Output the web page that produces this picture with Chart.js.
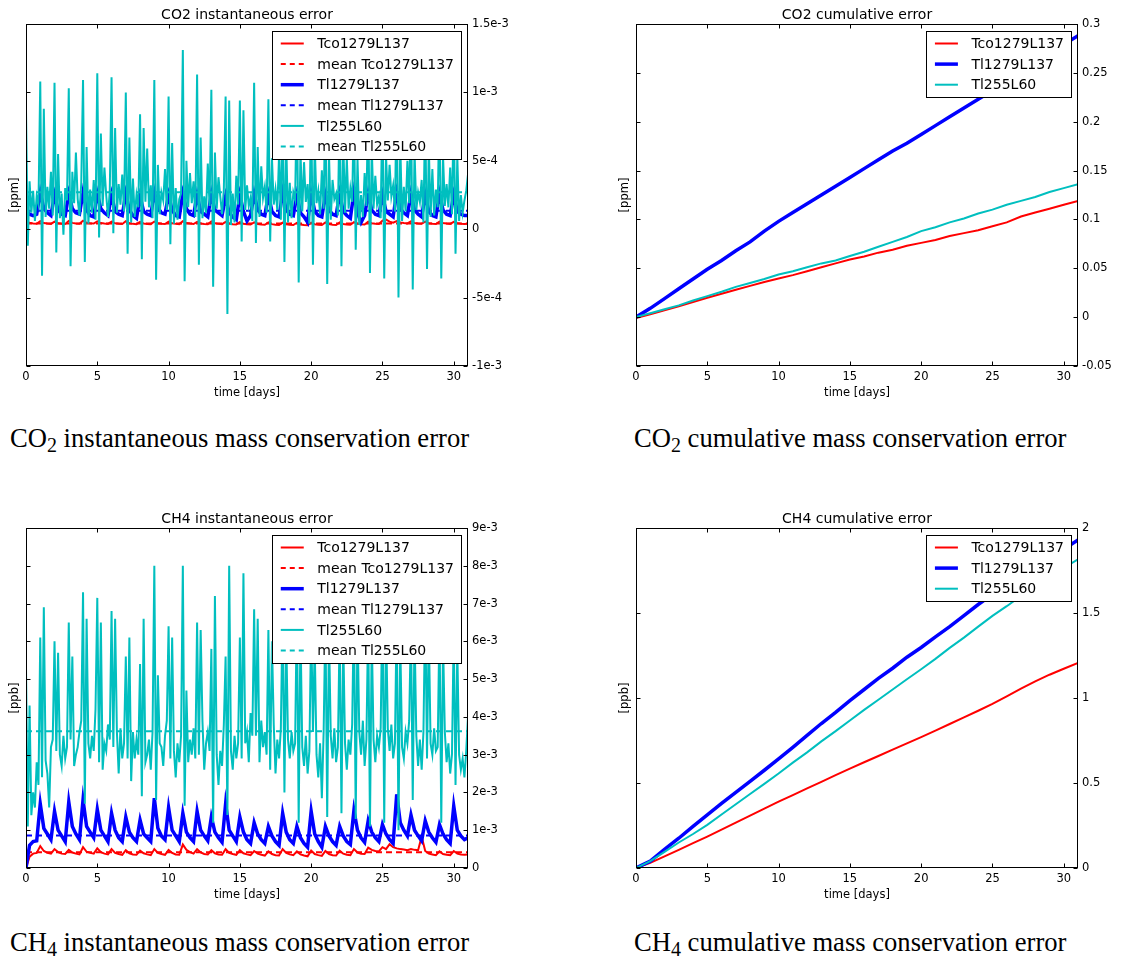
<!DOCTYPE html>
<html>
<head>
<meta charset="utf-8">
<script src="https://cdn.jsdelivr.net/npm/chart.js@4.4.1/dist/chart.umd.min.js"></script>
<style>
  html, body { margin: 0; padding: 0; background: #fff; overflow: hidden; }
  #page { position: relative; width: 1121px; height: 959px; }
  canvas { position: absolute; }
  .caption { position: absolute; font-family: "Liberation Serif", "Times New Roman", serif; font-size: 26.6px; line-height: 30px; color: #000; white-space: nowrap; }
  .caption sub { font-size: 20px; vertical-align: -5px; line-height: 0; }
</style>
</head>
<body>
<div id="page">
  <canvas id="co2Inst" width="516" height="405" style="left:0px;top:0px"></canvas>
  <canvas id="co2Cum" width="511" height="405" style="left:610px;top:0px"></canvas>
  <canvas id="ch4Inst" width="516" height="403" style="left:0px;top:504px"></canvas>
  <canvas id="ch4Cum" width="511" height="403" style="left:610px;top:504px"></canvas>
  <div class="caption" style="left:10px;top:423px">CO<sub>2</sub> instantaneous mass conservation error</div>
  <div class="caption" style="left:634px;top:423px">CO<sub>2</sub> cumulative mass conservation error</div>
  <div class="caption" style="left:10px;top:927px">CH<sub>4</sub> instantaneous mass conservation error</div>
  <div class="caption" style="left:634px;top:927px">CH<sub>4</sub> cumulative mass conservation error</div>
</div>
<script>
"use strict";

const RED = '#ff0000';
const BLUE = '#0000ff';
const CYAN = '#00bfbf';

const modelNames = ['Tco1279L137', 'Tl1279L137', 'Tl255L60'];

// time axis (days)
const STEP_6H = 0.25;  // Tco / Tl1279 instantaneous, 4 per day
const STEP_3H = 0.125; // Tl255 instantaneous, 8 per day
const STEP_DAY = 1;    // cumulative, read once a day
const xTicks = [0, 5, 10, 15, 20, 25, 30];
const xTickLabels = ['0', '5', '10', '15', '20', '25', '30'];

// CO2 instantaneous error, values in 1e-4 ppm
const co2InstTco = [
  0.55,0.48,0.42,0.40, 0.58,0.45,0.41,0.39, 0.56,0.44,0.40,0.38, 0.60,0.46,0.42,0.40,
  0.62,0.47,0.43,0.41, 0.57,0.45,0.41,0.39, 0.55,0.44,0.40,0.38, 0.58,0.43,0.39,0.37,
  0.54,0.42,0.38,0.37, 0.56,0.44,0.40,0.38, 0.55,0.43,0.39,0.37, 0.59,0.45,0.41,0.38,
  0.54,0.42,0.38,0.36, 0.56,0.43,0.39,0.37, 0.53,0.41,0.37,0.35, 0.52,0.40,0.36,0.34,
  0.50,0.38,0.34,0.32, 0.49,0.37,0.33,0.31, 0.48,0.36,0.32,0.30, 0.47,0.35,0.31,0.29,
  0.48,0.36,0.32,0.30, 0.49,0.37,0.33,0.31, 0.50,0.38,0.34,0.32, 0.52,0.40,0.36,0.34,
  0.55,0.44,0.40,0.38, 0.62,0.70,0.55,0.48, 0.60,0.50,0.45,0.42, 0.57,0.46,0.42,0.40,
  0.55,0.44,0.40,0.38, 0.56,0.45,0.41,0.39, 0.54,0.43,0.40,0.38, 0.40
];
const co2InstTl1279 = [
  1.4,1.1,1.0,1.1, 2.7,1.5,1.2,1.0, 2.5,1.4,1.1,1.0, 2.6,1.5,1.2,1.1,
  2.7,1.4,1.0,0.9, 2.6,1.5,1.2,1.0, 2.5,1.3,1.1,1.0, 2.6,1.4,1.0,0.8,
  2.4,1.3,1.1,1.0, 2.7,1.5,1.2,1.1, 2.5,1.4,1.0,0.9, 2.6,1.5,1.1,1.0,
  2.5,1.3,1.1,0.9, 2.6,1.4,1.2,1.0, 2.4,1.2,0.9,0.7, 2.5,1.3,0.6,1.0,
  2.6,1.4,1.1,1.0, 2.5,1.3,1.0,0.9, 2.7,1.4,1.1,1.0, 2.5,1.2,0.9,0.5,
  2.6,1.3,1.0,0.9, 2.5,1.4,1.1,1.0, 2.6,1.3,1.0,0.8, 2.7,1.2,0.5,1.0,
  2.6,1.4,1.1,1.0, 2.5,1.3,1.1,0.9, 2.7,1.5,1.2,1.0, 2.6,1.4,1.1,0.9,
  2.5,1.3,1.0,0.9, 2.6,1.4,1.1,1.0, 2.5,1.3,1.1,1.0, 1.0
];
const co2InstTl255 = [
  8.7,-1.2,3.5,1.2,2.8,0.6,2.4,1.8,   10.8,-3.4,8.8,0.9,3.1,1.5,4.2,1.0,
  10.7,-1.7,5.5,0.8,2.6,-0.4,3.0,2.1, 10.3,-2.7,4.2,1.9,5.6,2.2,1.0,3.4,
  10.9,-2.4,6.0,0.4,2.9,1.2,3.6,0.7,  11.4,-0.6,7.0,1.7,4.5,2.5,0.9,2.8,
  11.1,-0.3,7.4,1.2,3.3,1.8,4.0,1.3,  10.0,-1.8,6.7,0.5,3.7,0.9,2.5,1.6,
  8.4,-2.2,7.4,2.0,5.9,1.6,3.2,0.8,   10.9,-3.7,4.7,1.1,2.7,2.1,4.4,1.4,
  9.7,-1.1,6.3,0.4,3.0,0.7,2.2,2.6,   13.1,-3.8,5.0,1.6,4.1,1.9,3.5,0.9,
  11.3,-2.6,6.7,0.8,2.4,1.2,4.8,1.7,  10.2,-4.2,5.6,1.5,3.8,2.4,1.1,2.9,
  9.7,-6.2,9.4,0.3,2.6,0.5,3.9,1.8,   9.4,-0.9,8.7,1.4,3.2,1.7,2.3,0.6,
  10.7,-1.0,6.0,0.9,4.6,2.3,3.1,1.2,  9.5,-0.9,5.2,1.8,2.9,1.4,5.5,0.7,
  9.0,-2.4,6.5,0.5,3.4,0.8,2.7,2.2,   10.0,-3.9,5.8,1.3,4.9,2.0,3.3,0.4,
  9.3,-2.6,6.2,1.9,2.8,1.1,4.3,1.5,   9.8,-4.0,5.5,0.7,3.6,2.2,2.6,1.0,
  9.1,-2.7,6.6,1.2,5.2,1.5,3.0,2.0,   8.8,-1.5,5.1,0.3,2.5,0.9,4.1,1.7,
  9.6,-3.2,6.0,1.5,3.9,1.8,2.4,0.8,   9.4,-3.6,5.4,2.1,4.7,2.4,3.2,1.3,
  10.2,-5.0,6.3,0.6,3.1,1.3,5.0,1.9,  9.7,-4.4,5.7,1.4,2.7,2.0,3.6,0.5,
  9.0,-2.9,6.1,0.9,4.4,1.0,2.9,1.6,   9.5,-3.6,5.3,1.7,3.3,1.6,4.5,1.1,
  8.9,-1.8,5.3,0.6,2.5,1.2,2.1,2.8,   4.0
];
const co2InstMeans = [0.42, 1.35, 2.7];
const co2InstTicks = [-1e-3, -5e-4, 0, 5e-4, 1e-3, 1.5e-3];
const co2InstTickLabels = ['-1e-3', '-5e-4', '0', '5e-4', '1e-3', '1.5e-3'];

// CO2 cumulative error, ppm
const co2CumTco = [
  -0.001, 0.003, 0.007, 0.011, 0.0155, 0.0198, 0.024, 0.028, 0.032, 0.036, 0.0396,
  0.043, 0.047, 0.051, 0.055, 0.059, 0.062, 0.066, 0.069, 0.073, 0.076,
  0.079, 0.083, 0.086, 0.089, 0.093, 0.097, 0.103, 0.107, 0.111, 0.115, 0.119
];
const co2CumTl1279 = [
  0, 0.009, 0.019, 0.029, 0.039, 0.049, 0.058, 0.068, 0.077, 0.088, 0.098,
  0.107, 0.116, 0.125, 0.134, 0.143, 0.152, 0.161, 0.170, 0.178, 0.187,
  0.196, 0.205, 0.214, 0.223, 0.232, 0.243, 0.252, 0.261, 0.270, 0.279, 0.288
];
const co2CumTl255 = [
  0, 0.004, 0.008, 0.012, 0.017, 0.0215, 0.026, 0.031, 0.035, 0.039, 0.0437,
  0.047, 0.051, 0.055, 0.058, 0.0625, 0.067, 0.072, 0.077, 0.082, 0.088,
  0.092, 0.097, 0.101, 0.106, 0.110, 0.115, 0.119, 0.123, 0.128, 0.132, 0.136
];
const co2CumTicks = [-0.05, 0, 0.05, 0.1, 0.15, 0.2, 0.25, 0.3];
const co2CumTickLabels = ['-0.05', '0', '0.05', '0.1', '0.15', '0.2', '0.25', '0.3'];

// CH4 instantaneous error, values in 1e-3 ppb
const ch4InstTco = [
  0.00,0.30,0.38,0.40, 0.58,0.45,0.40,0.38, 0.50,0.42,0.38,0.37, 0.48,0.41,0.38,0.36,
  0.55,0.43,0.40,0.38, 0.52,0.42,0.38,0.36, 0.50,0.40,0.37,0.35, 0.47,0.39,0.36,0.35,
  0.46,0.39,0.36,0.34, 0.50,0.40,0.37,0.35, 0.48,0.40,0.36,0.35, 0.62,0.48,0.42,0.38,
  0.50,0.41,0.37,0.36, 0.47,0.39,0.36,0.35, 0.50,0.40,0.37,0.35, 0.47,0.39,0.36,0.34,
  0.45,0.38,0.35,0.33, 0.44,0.37,0.34,0.33, 0.50,0.40,0.36,0.34, 0.44,0.36,0.33,0.31,
  0.46,0.37,0.34,0.32, 0.45,0.37,0.34,0.33, 0.46,0.38,0.35,0.34, 0.50,0.41,0.38,0.37,
  0.54,0.48,0.45,0.44, 0.55,0.50,0.63,0.55, 0.52,0.50,0.49,0.47, 0.50,0.48,0.47,0.83,
  0.45,0.38,0.36,0.34, 0.44,0.37,0.35,0.34, 0.45,0.38,0.36,0.35, 0.36
];
const ch4InstTl1279 = [
  0.00,0.60,0.70,0.72, 1.70,1.05,0.90,0.75, 1.50,1.00,0.85,0.70, 1.75,1.10,0.90,0.75,
  1.80,1.10,0.95,0.80, 1.55,1.00,0.85,0.70, 1.45,1.00,0.80,0.70, 1.35,0.95,0.80,0.70,
  1.27,0.90,0.80,0.70, 1.85,1.05,0.85,0.75, 1.60,1.00,0.85,0.70, 1.45,0.95,0.80,0.70,
  1.50,1.00,0.85,0.72, 1.35,0.95,0.80,0.68, 1.70,1.00,0.85,0.70, 1.35,0.95,0.75,0.65,
  1.20,0.90,0.75,0.65, 1.10,0.85,0.70,0.60, 1.45,0.95,0.75,0.65, 1.10,0.80,0.65,0.55,
  1.50,0.90,0.70,0.55, 1.10,0.85,0.70,0.60, 1.10,0.85,0.70,0.62, 1.53,1.00,0.80,0.68,
  1.25,0.95,0.80,0.70, 1.15,0.90,0.75,0.65, 1.95,1.20,1.00,0.85, 1.40,1.00,0.85,0.72,
  1.25,0.95,0.80,0.68, 1.15,0.90,0.75,0.65, 1.64,1.00,0.85,0.75, 0.80
];
const ch4InstTl255 = [
  5.3,1.1,4.3,1.4,2.0,1.6,2.8,2.2,    6.1,2.4,6.9,2.85,2.5,1.6,3.2,3.4,
  6.0,3.1,5.7,3.0,2.7,3.5,2.9,3.2,    6.5,3.4,5.6,2.7,3.0,3.2,3.6,3.9,
  7.3,1.7,6.6,3.3,2.9,3.5,3.1,4.2,    7.15,2.8,6.5,2.6,3.3,3.1,3.8,3.4,
  6.8,3.2,6.6,3.6,2.5,3.7,2.9,3.3,    5.6,2.9,6.1,2.3,3.6,2.9,3.4,3.0,
  5.4,1.9,6.6,2.8,3.0,3.4,2.6,3.6,    8.0,1.8,5.1,3.3,3.2,2.7,3.5,3.9,
  6.4,2.9,6.1,3.1,2.4,3.3,2.8,3.5,    8.0,1.65,4.7,2.8,3.4,3.0,3.7,2.9,
  6.5,3.0,6.3,3.9,2.6,3.3,3.6,3.1,    5.8,1.2,7.2,3.0,2.2,3.1,2.7,3.8,
  5.6,1.4,8.0,3.1,2.6,3.5,2.9,3.3,    6.1,2.9,7.8,3.3,3.6,2.8,4.1,3.5,
  6.85,3.5,6.6,2.8,3.9,3.2,3.6,3.0,   6.3,2.6,6.0,3.8,2.5,3.4,2.9,3.7,
  6.9,2.0,6.2,3.4,2.9,3.6,3.1,3.3,    7.0,1.2,6.4,3.2,2.7,3.5,2.5,3.1,
  6.5,3.6,5.9,3.0,2.4,3.3,1.85,3.6,   6.7,1.35,6.3,3.5,2.9,3.7,2.8,3.2,
  6.4,1.45,6.1,3.3,2.6,3.4,3.0,3.8,   6.9,1.3,6.5,3.6,3.0,3.9,2.7,3.4,
  6.6,1.1,6.2,3.4,2.8,3.5,3.2,3.7,    7.2,1.2,6.6,3.7,3.1,3.8,2.9,3.3,
  6.8,1.0,6.0,3.2,2.9,3.6,3.3,3.9,    6.5,1.8,6.3,3.5,2.7,3.4,2.6,3.6,
  7.0,2.9,6.4,3.3,3.0,3.7,3.1,3.2,    6.6,1.2,6.0,3.6,2.8,3.3,2.5,3.0,
  6.3,2.2,5.8,3.0,2.6,2.9,2.4,3.1,    4.0
];
const ch4InstMeans = [0.42, 0.86, 3.62];
const ch4InstTicks = [0, 1e-3, 2e-3, 3e-3, 4e-3, 5e-3, 6e-3, 7e-3, 8e-3, 9e-3];
const ch4InstTickLabels = ['0', '1e-3', '2e-3', '3e-3', '4e-3', '5e-3', '6e-3', '7e-3', '8e-3', '9e-3'];

// CH4 cumulative error, ppb
const ch4CumTco = [
  0, 0.03, 0.068, 0.107, 0.146, 0.185, 0.226, 0.267, 0.308, 0.349, 0.39,
  0.429, 0.468, 0.507, 0.546, 0.585, 0.622, 0.659, 0.696, 0.733, 0.77,
  0.808, 0.847, 0.886, 0.925, 0.966, 1.01, 1.055, 1.098, 1.137, 1.172, 1.206
];
const ch4CumTl1279 = [
  0, 0.04, 0.11, 0.175, 0.245, 0.312, 0.38, 0.445, 0.51, 0.575, 0.642,
  0.71, 0.78, 0.85, 0.915, 0.985, 1.05, 1.115, 1.175, 1.24, 1.297,
  1.36, 1.42, 1.485, 1.55, 1.61, 1.665, 1.72, 1.77, 1.825, 1.875, 1.93
];
const ch4CumTl255 = [
  0, 0.04, 0.095, 0.15, 0.2, 0.254, 0.315, 0.375, 0.435, 0.495, 0.556,
  0.62, 0.68, 0.745, 0.805, 0.868, 0.93, 0.99, 1.05, 1.11, 1.169,
  1.23, 1.295, 1.355, 1.42, 1.483, 1.54, 1.6, 1.655, 1.71, 1.765, 1.815
];
const ch4CumTicks = [0, 0.5, 1, 1.5, 2];
const ch4CumTickLabels = ['0', '0.5', '1', '1.5', '2'];

const FONT = '"DejaVu Sans", sans-serif';
Chart.defaults.font.family = FONT;
Chart.defaults.color = '#000';

const series = (label, color, width, values, step, unit) => ({
  label: label,
  data: values.map((v, i) => ({ x: i * step, y: v * unit })),
  borderColor: color,
  borderWidth: width,
  borderDash: [],
  pointRadius: 0,
  tension: 0,
  fill: false
});

const meanLine = (label, color, value, unit) => ({
  label: label,
  data: [{ x: 0, y: value * unit }, { x: 31, y: value * unit }],
  borderColor: color,
  borderWidth: 2,
  borderDash: [6, 4],
  pointRadius: 0,
  fill: false
});

// frame, inward ticks, title, axis labels and boxed legend, matplotlib look
const mplFrame = {
  id: 'mplFrame',
  afterDatasetsDraw(chart, args, opts) {
    const { ctx, chartArea: a, scales } = chart;
    const line = (x1, y1, x2, y2) => { ctx.beginPath(); ctx.moveTo(x1, y1); ctx.lineTo(x2, y2); ctx.stroke(); };
    ctx.save();
    ctx.strokeStyle = '#000';
    ctx.lineWidth = 1;
    ctx.setLineDash([]);
    const L = Math.round(a.left) + 0.5, R = Math.round(a.right) - 0.5;
    const T = Math.round(a.top) + 0.5, B = Math.round(a.bottom) - 0.5;
    ctx.strokeRect(L, T, R - L, B - T);
    scales.x.ticks.forEach(t => {
      const px = Math.round(scales.x.getPixelForValue(t.value)) + 0.5;
      line(px, B, px, B - 4);
      line(px, T, px, T + 4);
    });
    scales.y.ticks.forEach(t => {
      const py = Math.round(scales.y.getPixelForValue(t.value)) + 0.5;
      line(L, py, L + 4, py);
      line(R, py, R - 4, py);
    });

    ctx.fillStyle = '#000';
    ctx.font = '14px ' + FONT;
    ctx.textAlign = 'center';
    ctx.textBaseline = 'alphabetic';
    ctx.fillText(opts.title, (a.left + a.right) / 2, a.top - 5);
    ctx.font = '11.5px ' + FONT;
    ctx.textBaseline = 'middle';
    ctx.fillText('time [days]', (a.left + a.right) / 2, a.bottom + 27.5);
    ctx.save();
    ctx.translate(a.left - 11, (a.top + a.bottom) / 2);
    ctx.rotate(-Math.PI / 2);
    ctx.fillText(opts.yTitle, 0, 0);
    ctx.restore();

    // legend box, upper right
    const items = chart.data.datasets;
    ctx.font = '14px ' + FONT;
    const textW = Math.max(...items.map(d => ctx.measureText(d.label).width));
    const rowH = 20.6;
    const boxW = 45.5 + textW + 7;
    const boxH = items.length * rowH + 4.4;
    const bx = a.right - 7 - boxW;
    const by = a.top + 7;
    ctx.fillStyle = '#fff';
    ctx.fillRect(bx, by, boxW, boxH);
    ctx.strokeRect(Math.round(bx) + 0.5, Math.round(by) + 0.5, Math.round(boxW), Math.round(boxH));
    items.forEach((d, i) => {
      const cy = by + 2.2 + rowH * (i + 0.5);
      ctx.strokeStyle = d.borderColor;
      ctx.lineWidth = d.borderWidth;
      ctx.setLineDash(d.borderDash.length ? [5, 4] : []);
      line(bx + 9, cy, bx + 32, cy);
      ctx.fillStyle = '#000';
      ctx.textAlign = 'left';
      ctx.fillText(d.label, bx + 45.5, cy + 1);
    });
    ctx.restore();
  }
};

const makeChart = (id, title, yTitle, datasets, yMin, yMax, yTicks, yTickLabels, yWidth) => {
  // first dataset at the bottom, last on top
  datasets.forEach((d, i) => { d.order = datasets.length - i; });
  return new Chart(document.getElementById(id), {
    type: 'line',
    data: { datasets: datasets },
    options: {
      responsive: false,
      animation: false,
      devicePixelRatio: 1,
      layout: { padding: { top: 24, left: 26, right: 0, bottom: 0 } },
      plugins: {
        legend: { display: false },
        tooltip: { enabled: false },
        mplFrame: { title: title, yTitle: yTitle }
      },
      scales: {
        x: {
          type: 'linear',
          min: 0,
          max: 31,
          grid: { display: false, drawTicks: false },
          border: { display: false },
          afterBuildTicks: s => { s.ticks = xTicks.map(v => ({ value: v })); },
          ticks: { autoSkip: false, maxRotation: 0, padding: 4, font: { size: 11.5 }, callback: (v, i) => xTickLabels[i] },
          afterFit: s => { s.height = 39; }
        },
        y: {
          type: 'linear',
          position: 'right',
          min: yMin,
          max: yMax,
          grid: { display: false, drawTicks: false },
          border: { display: false },
          afterBuildTicks: s => { s.ticks = yTicks.map(v => ({ value: v })); },
          ticks: { autoSkip: false, padding: 4, font: { size: 11.5 }, callback: (v, i) => yTickLabels[i] },
          afterFit: s => { s.width = yWidth; }
        }
      }
    },
    plugins: [mplFrame]
  });
};

makeChart('co2Inst', 'CO2 instantaneous error', '[ppm]', [
  series(modelNames[0], RED, 2, co2InstTco, STEP_6H, 1e-4),
  meanLine('mean ' + modelNames[0], RED, co2InstMeans[0], 1e-4),
  series(modelNames[1], BLUE, 3.5, co2InstTl1279, STEP_6H, 1e-4),
  meanLine('mean ' + modelNames[1], BLUE, co2InstMeans[1], 1e-4),
  series(modelNames[2], CYAN, 2, co2InstTl255, STEP_3H, 1e-4),
  meanLine('mean ' + modelNames[2], CYAN, co2InstMeans[2], 1e-4)
], -1e-3, 1.5e-3, co2InstTicks, co2InstTickLabels, 48);

makeChart('co2Cum', 'CO2 cumulative error', '[ppm]', [
  series(modelNames[0], RED, 2, co2CumTco, STEP_DAY, 1),
  series(modelNames[1], BLUE, 3.5, co2CumTl1279, STEP_DAY, 1),
  series(modelNames[2], CYAN, 2, co2CumTl255, STEP_DAY, 1)
], -0.05, 0.3, co2CumTicks, co2CumTickLabels, 43);

makeChart('ch4Inst', 'CH4 instantaneous error', '[ppb]', [
  series(modelNames[0], RED, 2, ch4InstTco, STEP_6H, 1e-3),
  meanLine('mean ' + modelNames[0], RED, ch4InstMeans[0], 1e-3),
  series(modelNames[1], BLUE, 3.5, ch4InstTl1279, STEP_6H, 1e-3),
  meanLine('mean ' + modelNames[1], BLUE, ch4InstMeans[1], 1e-3),
  series(modelNames[2], CYAN, 2, ch4InstTl255, STEP_3H, 1e-3),
  meanLine('mean ' + modelNames[2], CYAN, ch4InstMeans[2], 1e-3)
], 0, 9e-3, ch4InstTicks, ch4InstTickLabels, 48);

makeChart('ch4Cum', 'CH4 cumulative error', '[ppb]', [
  series(modelNames[0], RED, 2, ch4CumTco, STEP_DAY, 1),
  series(modelNames[1], BLUE, 3.5, ch4CumTl1279, STEP_DAY, 1),
  series(modelNames[2], CYAN, 2, ch4CumTl255, STEP_DAY, 1)
], 0, 2, ch4CumTicks, ch4CumTickLabels, 43);
</script>
</body>
</html>
